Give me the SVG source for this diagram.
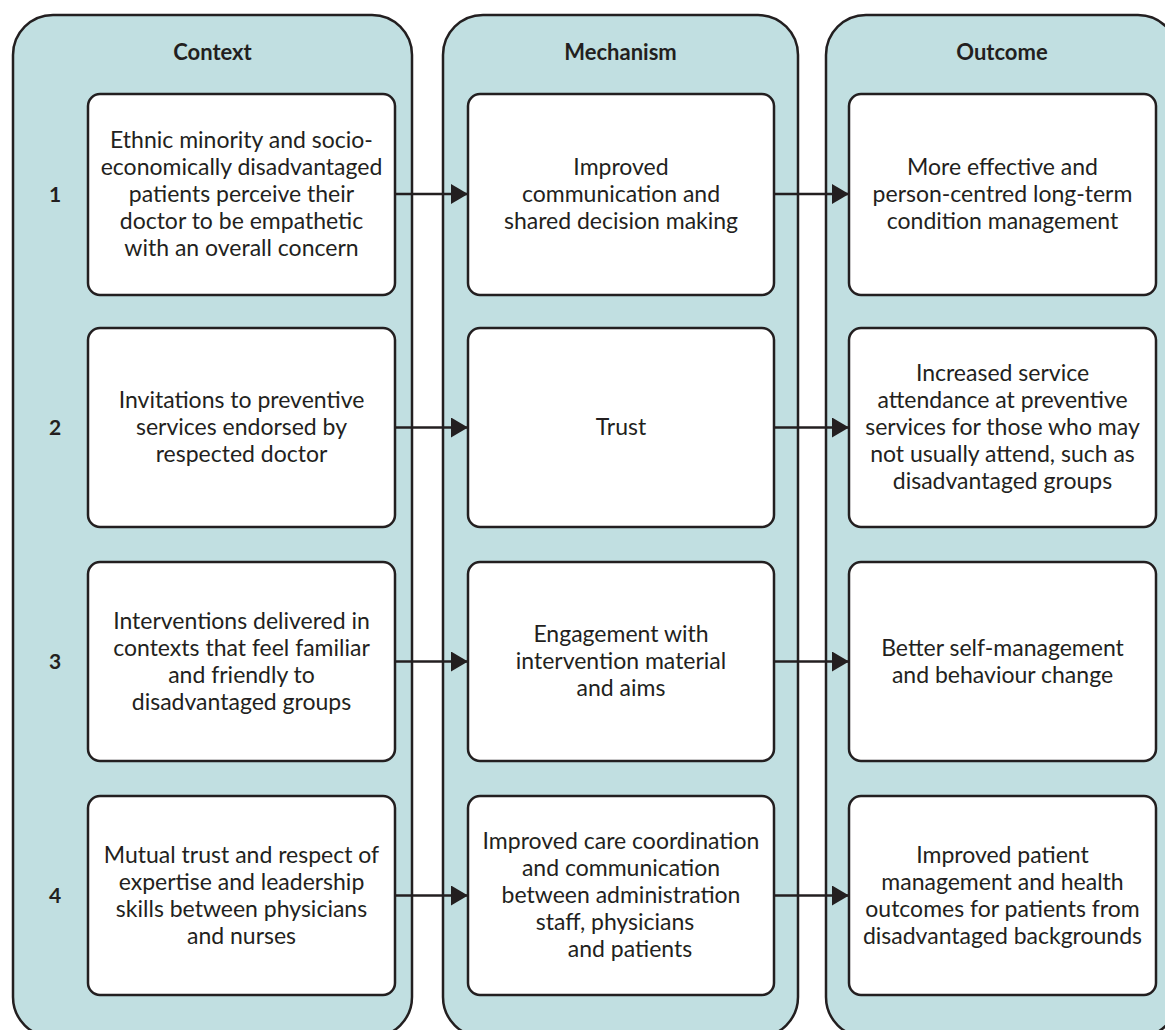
<svg xmlns="http://www.w3.org/2000/svg" width="1165" height="1030" viewBox="0 0 1165 1030">
<style>
.panel{fill:#c1dfe1;stroke:#231f20;stroke-width:2.5}
.box{fill:#ffffff;stroke:#231f20;stroke-width:2.5}
text{font-family:Lato,"Open Sans","Liberation Sans",sans-serif;fill:#231f20;text-anchor:middle}
.t{font-size:23px}
.h{font-size:22px;font-weight:bold}
.n{font-size:21px;font-weight:bold}
.conn line{stroke:#231f20;stroke-width:2.5}
</style>
<defs>
<marker id="ah" markerWidth="17" markerHeight="20" refX="17" refY="10" orient="auto" markerUnits="userSpaceOnUse">
<path d="M0,0 L17,10 L0,20 Z" fill="#231f20"/>
</marker>
</defs>
<g id="panel-context"><rect class="panel" x="13" y="15" width="399" height="1022" rx="40"/><text class="h" x="212.5" y="60">Context</text></g>
<g id="panel-mechanism"><rect class="panel" x="443" y="15" width="355" height="1022" rx="40"/><text class="h" x="620.5" y="60">Mechanism</text></g>
<g id="panel-outcome"><rect class="panel" x="826" y="15" width="352" height="1022" rx="40"/><text class="h" x="1002" y="60">Outcome</text></g>

<g id="labels">
<text class="n" x="55" y="202">1</text>
<text class="n" x="55" y="435">2</text>
<text class="n" x="55" y="669">3</text>
<text class="n" x="55" y="903">4</text>
</g>

<g id="c1"><rect class="box" x="88" y="94" width="307" height="201" rx="12"/>
<text class="t" x="241.5" y="148">Ethnic minority and socio-</text>
<text class="t" x="241.5" y="175">economically disadvantaged</text>
<text class="t" x="241.5" y="202">patients perceive their</text>
<text class="t" x="241.5" y="229">doctor to be empathetic</text>
<text class="t" x="241.5" y="256">with an overall concern</text></g>
<g id="m1"><rect class="box" x="468" y="94" width="306" height="201" rx="12"/>
<text class="t" x="621" y="175">Improved</text>
<text class="t" x="621" y="202">communication and</text>
<text class="t" x="621" y="229">shared decision making</text></g>
<g id="o1"><rect class="box" x="849" y="94" width="307" height="201" rx="12"/>
<text class="t" x="1002.5" y="175">More effective and</text>
<text class="t" x="1002.5" y="202">person-centred long-term</text>
<text class="t" x="1002.5" y="229">condition management</text></g>

<g id="c2"><rect class="box" x="88" y="328" width="307" height="199" rx="12"/>
<text class="t" x="241.5" y="408">Invitations to preventive</text>
<text class="t" x="241.5" y="435">services endorsed by</text>
<text class="t" x="241.5" y="462">respected doctor</text></g>
<g id="m2"><rect class="box" x="468" y="328" width="306" height="199" rx="12"/>
<text class="t" x="621" y="435">Trust</text></g>
<g id="o2"><rect class="box" x="849" y="328" width="307" height="199" rx="12"/>
<text class="t" x="1002.5" y="381">Increased service</text>
<text class="t" x="1002.5" y="408">attendance at preventive</text>
<text class="t" x="1002.5" y="435">services for those who may</text>
<text class="t" x="1002.5" y="462">not usually attend, such as</text>
<text class="t" x="1002.5" y="489">disadvantaged groups</text></g>

<g id="c3"><rect class="box" x="88" y="562" width="307" height="199" rx="12"/>
<text class="t" x="241.5" y="628.5">Interventions delivered in</text>
<text class="t" x="241.5" y="655.5">contexts that feel familiar</text>
<text class="t" x="241.5" y="682.5">and friendly to</text>
<text class="t" x="241.5" y="709.5">disadvantaged groups</text></g>
<g id="m3"><rect class="box" x="468" y="562" width="306" height="199" rx="12"/>
<text class="t" x="621" y="642">Engagement with</text>
<text class="t" x="621" y="669">intervention material</text>
<text class="t" x="621" y="696">and aims</text></g>
<g id="o3"><rect class="box" x="849" y="562" width="307" height="199" rx="12"/>
<text class="t" x="1002.5" y="655.5">Better self-management</text>
<text class="t" x="1002.5" y="682.5">and behaviour change</text></g>

<g id="c4"><rect class="box" x="88" y="796" width="307" height="199" rx="12"/>
<text class="t" x="241.5" y="862.5">Mutual trust and respect of</text>
<text class="t" x="241.5" y="889.5">expertise and leadership</text>
<text class="t" x="241.5" y="916.5">skills between physicians</text>
<text class="t" x="241.5" y="943.5">and nurses</text></g>
<g id="m4"><rect class="box" x="468" y="796" width="306" height="199" rx="12"/>
<text class="t" x="621" y="849">Improved care coordination</text>
<text class="t" x="621" y="876">and communication</text>
<text class="t" x="621" y="903">between administration</text>
<text class="t" x="615" y="930">staff, physicians</text>
<text class="t" x="630" y="957">and patients</text></g>
<g id="o4"><rect class="box" x="849" y="796" width="307" height="199" rx="12"/>
<text class="t" x="1002.5" y="862.5">Improved patient</text>
<text class="t" x="1002.5" y="889.5">management and health</text>
<text class="t" x="1002.5" y="916.5">outcomes for patients from</text>
<text class="t" x="1002.5" y="943.5">disadvantaged backgrounds</text></g>

<g id="connectors" class="conn">
<line x1="395" y1="194" x2="468" y2="194" marker-end="url(#ah)"/>
<line x1="774" y1="194" x2="849" y2="194" marker-end="url(#ah)"/>
<line x1="395" y1="427.5" x2="468" y2="427.5" marker-end="url(#ah)"/>
<line x1="774" y1="427.5" x2="849" y2="427.5" marker-end="url(#ah)"/>
<line x1="395" y1="661.5" x2="468" y2="661.5" marker-end="url(#ah)"/>
<line x1="774" y1="661.5" x2="849" y2="661.5" marker-end="url(#ah)"/>
<line x1="395" y1="895.5" x2="468" y2="895.5" marker-end="url(#ah)"/>
<line x1="774" y1="895.5" x2="849" y2="895.5" marker-end="url(#ah)"/>
</g>
</svg>
